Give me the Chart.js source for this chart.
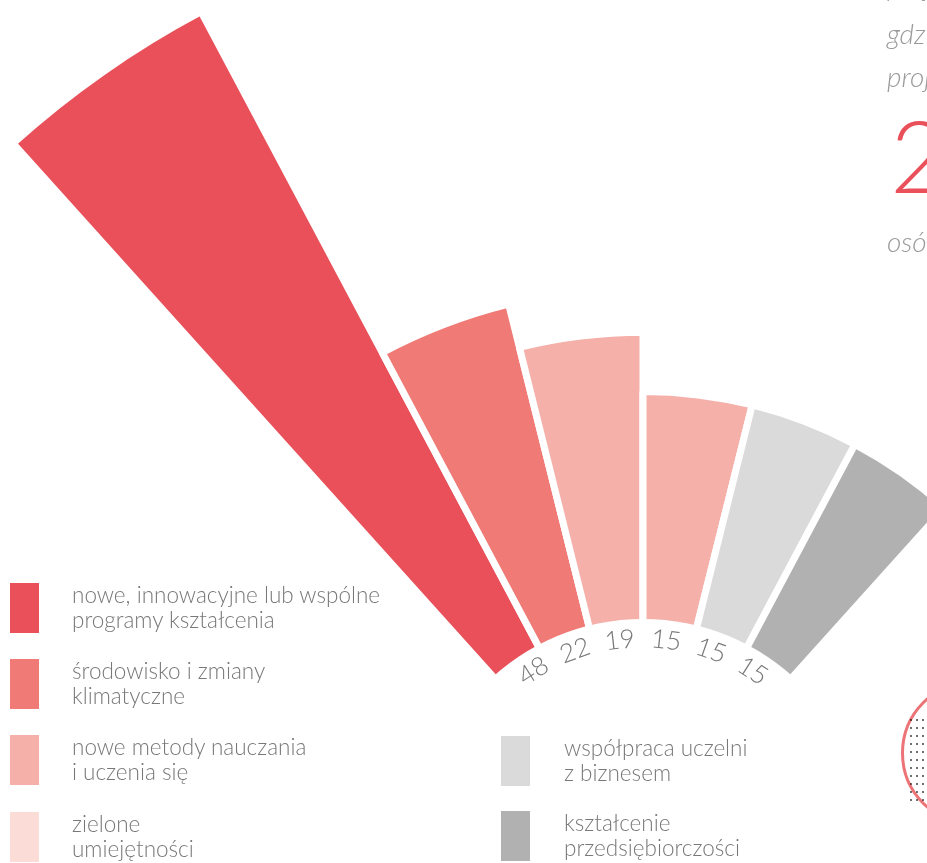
<!DOCTYPE html>
<html>
<head>
<meta charset="utf-8">
<script src="https://cdn.jsdelivr.net/npm/chart.js@4.4.0/dist/chart.umd.min.js"></script>
<style>
  html, body { margin: 0; padding: 0; background: #fff; }
  #page { position: relative; width: 927px; height: 863px; overflow: hidden; font-family: Lato, "Open Sans", sans-serif; }
  #chart { position: absolute; left: -357px; top: -157px; }
  .item { position: absolute; }
  .item .sw { position: absolute; left: 0; top: 0; width: 29px; height: 50px; }
  .item .tx { position: absolute; top: -1px; white-space: nowrap; font-weight: 300; font-size: 22.5px; line-height: 25px; color: #787878; }
  .side { position: absolute; left: 887px; white-space: nowrap; font-style: italic; font-weight: 300; font-size: 28px; line-height: 28px; color: #9a9a9a; }
  .big { position: absolute; left: 890px; top: 104px; font-weight: 300; font-size: 100px; line-height: 100px; color: #e9505a; }
  .seal { position: absolute; left: 901px; top: 680px; width: 140px; height: 140px; border: 3px solid #ec7376; border-radius: 50%; }
  .dots { position: absolute; left: 908px; top: 716px; width: 19px; height: 86px;
          background-image: radial-gradient(circle, #111 1.1px, transparent 1.5px); background-size: 6px 8px; opacity: 0.6; }
</style>
</head>
<body>
<div id="page">
  <canvas id="chart" width="2000" height="2000"></canvas>
  <div class="side" style="top:-29px">projektów,</div>
  <div class="side" style="top:19px">gdzie ten temat</div>
  <div class="side" style="top:62px">projektach</div>
  <div class="big">2</div>
  <div class="side" style="top:227px">osób</div>
  <div class="seal"></div>
  <div class="dots"></div>
  <div id="legend"></div>
</div>
<script>
// data
const categories = [
  ['nowe, innowacyjne lub wspólne', 'programy kształcenia'],
  ['środowisko i zmiany', 'klimatyczne'],
  ['nowe metody nauczania', 'i uczenia się'],
  ['zielone', 'umiejętności'],
  ['współpraca uczelni', 'z biznesem'],
  ['kształcenie', 'przedsiębiorczości']
];
const values = [48, 22, 19, 15, 15, 15];
const sliceColors = ['#e9505a', '#ef7a76', '#f5b0aa', '#f5b0aa', '#dadada', '#b1b1b1'];
const legendColors = ['#e9505a', '#ef7a76', '#f5b0aa', '#fcdcd7', '#dadada', '#b1b1b1'];

// layout
const pxPerUnit = 14.85;
const rMin = -15.4;
const canvasSize = 2000;
const rMax = rMin + canvasSize / 2 / pxPerUnit;
const sliceAngle = 14;
const holeRadius = 224;
const labelRadius = 204;
const labelSpread = 13 / 14; // labels sit a little closer together than the slices
const legendPos = [
  [10, 583, 72], [10, 659, 72], [10, 735, 72], [10, 812, 72],
  [501, 736, 564], [501, 811, 564]
];

// legend
const legend = document.getElementById('legend');
categories.forEach((lines, i) => {
  const [x, y, tx] = legendPos[i];
  const el = document.createElement('div');
  el.className = 'item';
  el.style.left = x + 'px';
  el.style.top = y + 'px';
  el.innerHTML = `<div class="sw" style="background:${legendColors[i]}"></div>` +
    `<div class="tx" style="left:${tx - x}px">${lines.join('<br>')}</div>`;
  legend.appendChild(el);
});

// white hole in the middle + value labels round it
const innerLabels = {
  id: 'innerLabels',
  afterDatasetsDraw(chart) {
    const scale = chart.scales.r;
    const ctx = chart.ctx;
    const cx = scale.xCenter, cy = scale.yCenter;
    ctx.save();
    ctx.fillStyle = '#fff';
    ctx.beginPath();
    ctx.arc(cx, cy, holeRadius, 0, Math.PI * 2);
    ctx.fill();

    ctx.fillStyle = '#787878';
    ctx.font = '300 26px Lato, "Open Sans", sans-serif';
    ctx.textAlign = 'center';
    ctx.textBaseline = 'middle';
    chart.getDatasetMeta(0).data.forEach((arc, i) => {
      let rel = (arc.startAngle + arc.endAngle) / 2 + Math.PI / 2;
      rel = Math.atan2(Math.sin(rel), Math.cos(rel)); // angle from straight up
      const a = -Math.PI / 2 + rel * labelSpread;
      ctx.save();
      ctx.translate(cx + Math.cos(a) * labelRadius, cy + Math.sin(a) * labelRadius);
      ctx.rotate(a + Math.PI / 2);
      ctx.fillText(String(values[i]), 0, 0);
      ctx.restore();
    });
    ctx.restore();
  }
};

const ctx = document.getElementById('chart');
const chart = new Chart(ctx, {
  type: 'polarArea',
  data: {
    labels: categories.map(l => l.join(' ')),
    datasets: [{
      data: values,
      backgroundColor: sliceColors,
      borderColor: '#fff',
      borderWidth: 7,
      angle: sliceAngle,
    }]
  },
  plugins: [innerLabels],
  options: {
    responsive: false,
    animation: false,
    layout: { padding: 0 },
    plugins: {
      legend: { display: false },
      tooltip: { enabled: false },
    },
    scales: {
      r: {
        min: rMin,
        max: rMax,
        startAngle: -3 * sliceAngle,
        ticks: { display: false },
        grid: { display: false },
        angleLines: { display: false },
        pointLabels: { display: false },
      }
    }
  }
});
</script>
</body>
</html>
